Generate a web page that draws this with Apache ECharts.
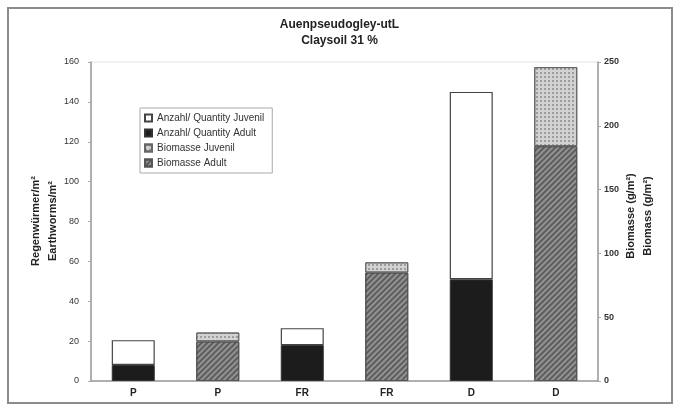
<!DOCTYPE html>
<html>
<head>
<meta charset="utf-8">
<script src="https://cdn.jsdelivr.net/npm/echarts@6/dist/echarts.min.js"></script>
<style>
  html, body { margin: 0; padding: 0; background: #fff; }
  #chart { width: 679px; height: 415px; }
</style>
</head>
<body>
<div id="chart"></div>
<script>
// categories (count bar, biomass bar alternating)
var categories = ['P', 'P', 'FR', 'FR', 'D', 'D'];

// Anzahl / Quantity (left axis, per m2)
var countAdult   = [8, '-', 18, '-', 51, '-'];
var countJuvenil = [12.5, '-', 8.5, '-', 94, '-'];

// Biomasse (right axis, g/m2)
var bioAdult   = ['-', 31, '-', 85, '-', 184];
var bioJuvenil = ['-', 7, '-', 8, '-', 62];

var leftTicks = { min: 0, max: 160, interval: 20 };
var rightTicks = { min: 0, max: 250, interval: 50 };

var leftName = 'Regenwürmer/m²\nEarthworms/m²';
var rightName = 'Biomasse (g/m²)\nBiomass (g/m²)';

var chart = echarts.init(document.getElementById('chart'));

var hatch = {
    symbol: 'rect',
    symbolSize: 1,
    dashArrayX: [1, 0],
    dashArrayY: [1.5, 1.5],
    rotation: -Math.PI / 4,
    color: 'rgba(40,40,40,0.5)'
};
var dots = {
    symbol: 'rect',
    symbolSize: 1,
    dashArrayX: [1.5, 1.5],
    dashArrayY: [1.5, 1.5],
    color: 'rgba(90,90,90,0.45)'
};

// axis titles as rotated text
function axisTitle(x, y, txt) {
    return {
        type: 'text',
        x: x,
        y: y,
        rotation: Math.PI / 2,
        silent: true,
        style: {
            text: txt,
            align: 'center',
            verticalAlign: 'middle',
            fontFamily: 'Liberation Sans, Arial, sans-serif',
            fontSize: 11,
            fontWeight: 'bold',
            lineHeight: 17,
            fill: '#222'
        }
    };
}

var option = {
    backgroundColor: '#fff',
    textStyle: { fontFamily: 'Liberation Sans, Arial, sans-serif' },
    title: {
        text: 'Auenpseudogley-utL\nClaysoil 31 %',
        left: 'center',
        top: 12,
        textStyle: { fontSize: 12, fontWeight: 'bold', color: '#222', lineHeight: 16 }
    },
    graphic: [{
        type: 'rect',
        shape: { x: 8, y: 8, width: 664, height: 395 },
        style: { fill: 'none', stroke: '#8c8c8c', lineWidth: 2 },
        silent: true
    }, axisTitle(44, 221, leftName), axisTitle(639, 216, rightName)],
    legend: {
        orient: 'vertical',
        left: 140,
        top: 108,
        padding: [5, 8, 5, 4],
        itemGap: 5,
        itemWidth: 7,
        itemHeight: 7,
        icon: 'rect',
        borderColor: '#aaa',
        borderWidth: 1,
        textStyle: { fontSize: 10, color: '#333' },
        data: ['Anzahl/ Quantity Juvenil', 'Anzahl/ Quantity Adult', 'Biomasse Juvenil', 'Biomasse Adult']
    },
    grid: { left: 91, right: 81, top: 62, bottom: 34, show: true, borderColor: '#e2e2e2', borderWidth: 1 },
    xAxis: {
        type: 'category',
        data: categories,
        axisTick: { show: false },
        axisLine: { lineStyle: { color: '#999', width: 1.5 } },
        axisLabel: { fontSize: 10, fontWeight: 'bold', color: '#222', margin: 7 }
    },
    yAxis: [{
        type: 'value',
        min: leftTicks.min,
        max: leftTicks.max,
        interval: leftTicks.interval,
        position: 'left',
        axisLine: { show: true, lineStyle: { color: '#999', width: 1.5 } },
        axisTick: { show: true, length: 3, lineStyle: { color: '#aaa' } },
        axisLabel: { fontSize: 9, color: '#333', margin: 12 },
        splitLine: { show: false }
    }, {
        type: 'value',
        min: rightTicks.min,
        max: rightTicks.max,
        interval: rightTicks.interval,
        position: 'right',
        axisLine: { show: true, lineStyle: { color: '#999', width: 1.5 } },
        axisTick: { show: true, length: 3, lineStyle: { color: '#aaa' } },
        axisLabel: { fontSize: 9, color: '#333', fontWeight: 'bold', margin: 6 },
        splitLine: { show: false }
    }],
    series: [{
        name: 'Anzahl/ Quantity Adult',
        type: 'bar',
        stack: 'count',
        yAxisIndex: 0,
        barWidth: 43,
        barGap: '-100%',
        itemStyle: { color: '#1c1c1c', borderColor: '#333', borderWidth: 1 },
        data: countAdult
    }, {
        name: 'Anzahl/ Quantity Juvenil',
        type: 'bar',
        stack: 'count',
        yAxisIndex: 0,
        barWidth: 43,
        barGap: '-100%',
        itemStyle: { color: '#ffffff', borderColor: '#444', borderWidth: 1.2 },
        data: countJuvenil
    }, {
        name: 'Biomasse Adult',
        type: 'bar',
        stack: 'bio',
        yAxisIndex: 1,
        barWidth: 43,
        barGap: '-100%',
        itemStyle: { color: '#929292', borderColor: '#555', borderWidth: 1, decal: hatch },
        data: bioAdult
    }, {
        name: 'Biomasse Juvenil',
        type: 'bar',
        stack: 'bio',
        yAxisIndex: 1,
        barWidth: 43,
        barGap: '-100%',
        itemStyle: { color: '#d2d2d2', borderColor: '#666', borderWidth: 1, decal: dots },
        data: bioJuvenil
    }]
};

chart.setOption(option);
</script>
</body>
</html>
